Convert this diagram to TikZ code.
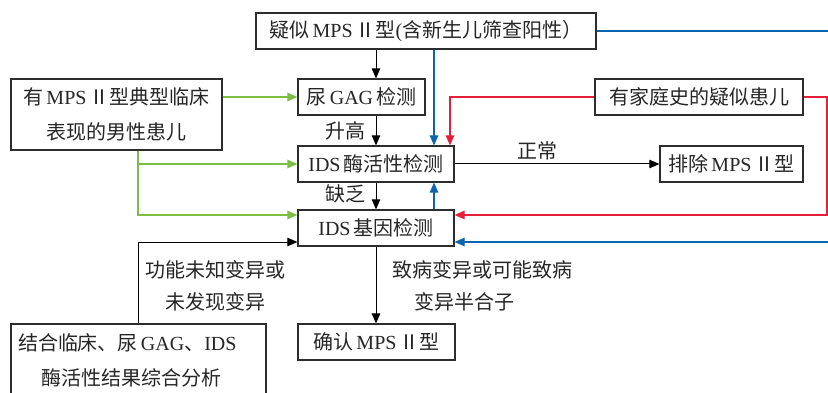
\documentclass[tikz,border=0pt]{standalone}
\usepackage{fontspec}
\setmainfont{Liberation Serif}
\newfontfamily\cjk{Noto Sans CJK SC}
\usetikzlibrary{arrows.meta}
\definecolor{lgreen}{RGB}{125,190,70}
\definecolor{lblue}{RGB}{10,100,175}
\definecolor{lred}{RGB}{230,30,55}
\definecolor{boxc}{RGB}{45,45,45}
\newcommand\zh[1]{{\cjk #1}}
\newcommand\qsp{\hspace{3pt}}
\begin{document}
\begin{tikzpicture}[x=1pt,y=-1pt,
  font=\fontsize{20}{35}\selectfont,
  box/.style={draw=boxc, line width=1.2pt, minimum height=36pt, inner sep=0pt, text=black!85},
  arr/.style={line width=1pt, -{Triangle[length=10pt,width=8.5pt]}},
  cline/.style={line width=1.2pt},
  lab/.style={inner sep=0pt, text=black!85}]
\useasboundingbox (0,0) rectangle (828,393);
\clip (0,0) rectangle (828,393);
% boxes
\node[box, minimum width=340pt] (top) at (426,31) {\zh{疑似}\qsp MPS\qsp\zh{Ⅱ型}(\zh{含新生儿筛查阳性）}};
\node[box, minimum width=127pt] (gag) at (361.5,97) {\zh{尿}\qsp GAG\qsp\zh{检测}};
\node[box, minimum width=211pt, minimum height=71pt, align=center] (left) at (116.5,114.5) {\zh{有}\qsp MPS\qsp\zh{Ⅱ型典型临床}\\\zh{表现的男性患儿}};
\node[box, minimum width=156pt] (enz) at (376,164) {IDS\qsp\zh{酶活性检测}};
\node[box, minimum width=208pt] (fam) at (699,97) {\zh{有家庭史的疑似患儿}};
\node[box, minimum width=143pt] (excl) at (731.5,164) {\zh{排除}\qsp MPS\qsp\zh{Ⅱ型}};
\node[box, minimum width=156pt] (gene) at (376,228) {IDS\qsp\zh{基因检测}};
\node[box, minimum width=157pt] (conf) at (376.5,342) {\zh{确认}\qsp MPS\qsp\zh{Ⅱ型}};
\node[box, minimum width=255pt, minimum height=72pt, text width=241pt, align=left] (comb) at (138.5,360) {\zh{结合临床、尿}\qsp GAG\zh{、}IDS\\\hspace*{24pt}\zh{酶活性结果综合分析}};
% helper coordinates
\coordinate (gx) at (138,0);
\coordinate (bx) at (434,0);
\coordinate (rx) at (450,0);
\coordinate (rr) at (827,0);
\coordinate (bt) at (829,31);
\coordinate (bb) at (829,242);
% black connectors
\draw[arr] (enz.north |- top.south) -- (enz.north |- gag.north);
\draw[arr] (enz.north |- gag.south) -- (enz.north);
\draw[arr] (enz.south) -- (gene.north);
\draw[arr] (gene.south) -- (gene.south |- conf.north);
\draw[arr] (enz.east) -- (excl.west);
\draw[arr] (comb.north -| gx) |- ([yshift=-14pt]gene.west);
% green
\draw[arr, cline, color=lgreen] (left.east |- gag.west) -- (gag.west);
\draw[arr, cline, color=lgreen] (left.south -| gx) |- (enz.west);
\draw[arr, cline, color=lgreen] (left.south -| gx) |- ([yshift=13pt]gene.west);
% blue
\draw[cline, color=lblue] (top.east) -- (bt);
\draw[arr, cline, color=lblue] (top.south -| bx) -- (enz.north -| bx);
\draw[arr, cline, color=lblue] (gene.north -| bx) -- (enz.south -| bx);
\draw[arr, cline, color=lblue] (bb) -- ([yshift=-14pt]gene.east);
% red
\draw[arr, cline, color=lred] (fam.west) -| (enz.north -| rx);
\draw[arr, cline, color=lred] (fam.east) -- (fam.east -| rr) |- ([yshift=13pt]gene.east);
% labels
\node[lab] (l1) at (345,131) {\zh{升高}};
\node[lab] (l2) at (345,194) {\zh{缺乏}};
\node[lab] (l3) at (537,151) {\zh{正常}};
\node[lab, align=left, font=\fontsize{20}{32}\selectfont] (l4) at (482,286) {\zh{致病变异或可能致病}\\\hspace*{22pt}\zh{变异半合子}};
\node[lab, align=center, font=\fontsize{20}{32}\selectfont] (l5) at (215,286) {\zh{功能未知变异或}\\\zh{未发现变异}};
\end{tikzpicture}
\end{document}
